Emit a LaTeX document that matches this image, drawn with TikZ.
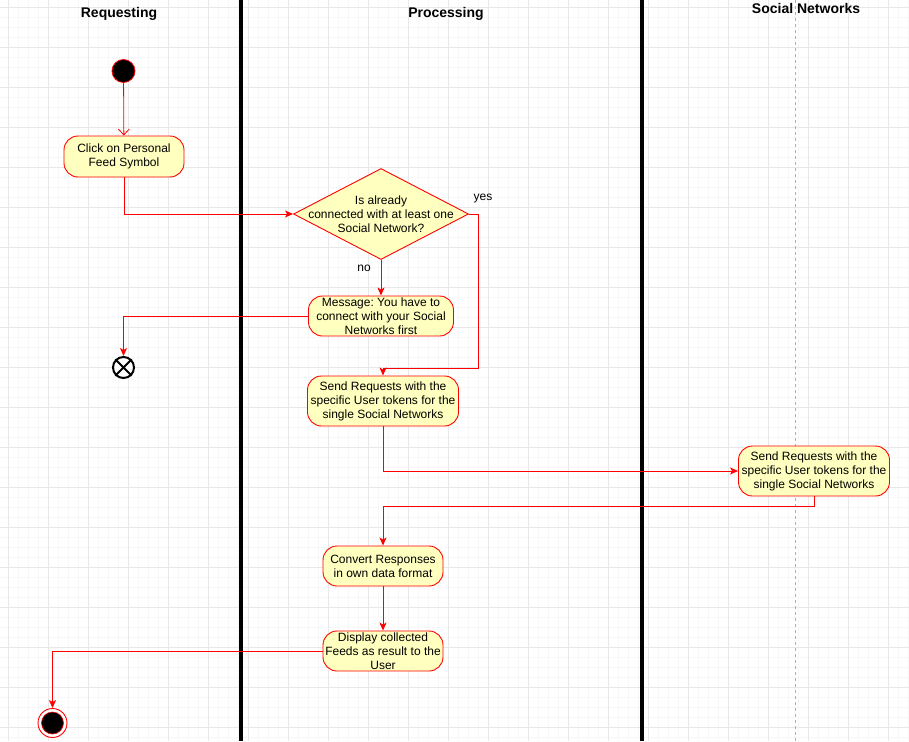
\documentclass[tikz,border=0pt]{standalone}
\usepackage{fontspec}
\setmainfont{Liberation Sans}
\frenchspacing
\usetikzlibrary{arrows.meta,shapes.geometric}
\definecolor{flowred}{HTML}{FF0000}
\definecolor{actfill}{HTML}{FFFFC0}
\definecolor{gridminor}{HTML}{F7F7F7}
\definecolor{gridmajor}{HTML}{E8E8E8}
\definecolor{lanedash}{HTML}{B0B0B0}

\begin{document}
\begin{tikzpicture}[x=1pt,y=-1pt,
  every node/.style={font=\fontsize{12}{14}\selectfont},
  action/.style={draw=flowred, fill=actfill, rounded corners=14pt, align=center,
    inner sep=0pt, line width=0.9pt},
  decision/.style={diamond, draw=flowred, fill=actfill, inner sep=0pt,
    minimum width=175pt, minimum height=91pt, line width=0.9pt},
  flow/.style={draw=flowred, line width=0.9pt, -{Stealth[length=8pt,width=7pt,inset=2pt]}},
  openflow/.style={draw=flowred, line width=0.8pt, -{Straight Barb[length=6pt,width=11pt]}},
  lanehead/.style={font=\fontsize{14}{16}\selectfont\bfseries},
  guard/.style={font=\fontsize{12}{14}\selectfont},
  lane/.style={line width=4pt, black},
]
\useasboundingbox (0,0) rectangle (909,741);
\fill[white] (0,0) rectangle (909,741);

% background grid
\foreach \x in {-2,8,...,908} \draw[gridminor, line width=0.8pt] (\x,0) -- (\x,741);
\foreach \y in {-3,7,...,740} \draw[gridminor, line width=0.8pt] (0,\y) -- (909,\y);
\foreach \x in {8,48,...,888} \draw[gridmajor, line width=0.8pt] (\x,0) -- (\x,741);
\foreach \y in {7,47,...,727} \draw[gridmajor, line width=0.8pt] (0,\y) -- (909,\y);

% swimlane separators
\draw[lane] (240.5,0) -- (240.5,741);
\draw[lane] (642,0) -- (642,741);
\draw[lanedash, line width=0.8pt, dash pattern=on 3pt off 3pt] (795,0) -- (795,741);

% lane headers
\node[lanehead] (hreq) at (119,14) {Requesting};
\node[lanehead] (hproc) at (446,14) {Processing};
\node[lanehead] (hsoc) at (806,8) {Social Networks};

% nodes
\node[circle, fill=black, draw=flowred, line width=0.8pt, minimum size=23pt, inner sep=0pt] (start) at (123.5,71) {};
\node[action, minimum width=120pt, minimum height=41pt] (click) at (124,156.5) {Click on Personal\\Feed Symbol};
\node[decision] (dec) at (381,214) {};
\node[align=center, inner sep=0pt] (dectext) at (dec.center) {Is already\\connected with at least one\\Social Network?};
\node[action, minimum width=145pt, minimum height=40pt] (msg) at (381,316) {Message: You have to\\connect with your Social\\Networks first};
\node[circle, draw=black, fill=white, line width=2pt, minimum size=21pt, inner sep=0pt] (ff) at (123.5,367.5) {};
\draw[black, line width=2pt] (ff.north east) -- (ff.south west) (ff.north west) -- (ff.south east);
\node[action, minimum width=151pt, minimum height=50pt] (sendp) at (383,401) {Send Requests with the\\specific User tokens for the\\single Social Networks};
\node[action, minimum width=151pt, minimum height=50pt] (sends) at (814,471) {Send Requests with the\\specific User tokens for the\\single Social Networks};
\node[action, minimum width=120pt, minimum height=40pt] (conv) at (383,566) {Convert Responses\\in own data format};
\node[action, minimum width=120pt, minimum height=40pt] (disp) at (383,651) {Display collected\\Feeds as result to the\\User};
\node[circle, draw=flowred, fill=white, line width=0.9pt, minimum size=29pt, inner sep=0pt] (fin) at (52.5,723) {};
\node[circle, fill=black, draw=flowred, line width=0.6pt, minimum size=22pt, inner sep=0pt] (fincore) at (fin.center) {};

% guard labels
\node[guard] (gyes) at (483,199) {yes};
\node[guard] (gno) at (364,268) {no};

% bend points
\coordinate (yesbend) at (478,368);
\coordinate (retbend) at (814,506);

% connectors
\draw[openflow] (start) -- (click);
\draw[flow] (click.south) |- (dec.west);
\draw[flow] (dec.south) -- (msg.north);
\draw[flow] (dec.east) -| (yesbend) -| (sendp.north);
\draw[flow] (msg.west) -| (ff.north);
\draw[flow] (sendp.south) |- (sends.west);
\draw[flow] (sends.south) -- (retbend) -| (conv.north);
\draw[flow] (conv.south) -- (disp.north);
\draw[flow] (disp.west) -| (fin.north);
\end{tikzpicture}
\end{document}
